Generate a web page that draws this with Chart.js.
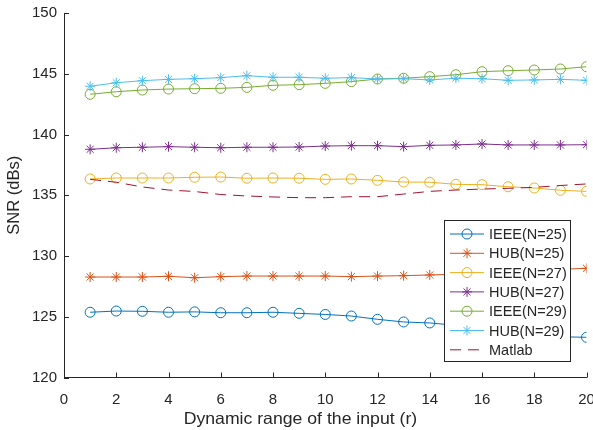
<!DOCTYPE html>
<html>
<head>
<meta charset="utf-8">
<script src="https://cdn.jsdelivr.net/npm/chart.js"></script>
<style>
  body { margin: 0; background: #fff; }
  #chart { display: block; }
</style>
</head>
<body>
<canvas id="chart" width="593" height="430"></canvas>
<script>
const xValues = [1, 2, 3, 4, 5, 6, 7, 8, 9, 10, 11, 12, 13, 14, 15, 16, 17, 18, 19, 20];

const ieee25 = [125.37, 125.47, 125.45, 125.37, 125.4, 125.33, 125.33, 125.37, 125.28, 125.19,
  125.06, 124.79, 124.57, 124.49, 124.3, 124.05, 123.8, 123.55, 123.35, 123.31];
const hub25 = [128.27, 128.27, 128.27, 128.33, 128.21, 128.3, 128.35, 128.35, 128.35, 128.35,
  128.3, 128.35, 128.38, 128.44, 128.5, 128.6, 128.7, 128.8, 128.9, 128.99];
const ieee27 = [136.34, 136.42, 136.42, 136.42, 136.48, 136.5, 136.4, 136.42, 136.4, 136.31,
  136.34, 136.23, 136.09, 136.07, 135.9, 135.87, 135.7, 135.6, 135.41, 135.32];
const hub27 = [138.78, 138.91, 138.95, 139.0, 138.95, 138.91, 138.95, 138.95, 138.97, 139.05,
  139.08, 139.08, 139.0, 139.11, 139.14, 139.22, 139.14, 139.14, 139.14, 139.16];
const ieee29 = [143.31, 143.52, 143.66, 143.74, 143.77, 143.8, 143.88, 144.05, 144.1, 144.21,
  144.35, 144.57, 144.63, 144.76, 144.92, 145.17, 145.25, 145.31, 145.39, 145.58];
const hub29 = [143.97, 144.26, 144.43, 144.54, 144.59, 144.68, 144.84, 144.71, 144.71, 144.63,
  144.68, 144.57, 144.59, 144.49, 144.63, 144.59, 144.46, 144.49, 144.54, 144.46];
const matlab = [136.31, 136.07, 135.68, 135.43, 135.31, 135.06, 134.94, 134.86, 134.8, 134.8,
  134.88, 134.88, 135.1, 135.32, 135.43, 135.51, 135.57, 135.65, 135.8, 135.93];

const xTicks = [0, 2, 4, 6, 8, 10, 12, 14, 16, 18, 20];
const yTicks = [120, 125, 130, 135, 140, 145, 150];

const seriesList = [
  { label: "IEEE(N=25)", values: ieee25, color: "#0072BD", marker: "circle" },
  { label: "HUB(N=25)", values: hub25, color: "#D95319", marker: "star" },
  { label: "IEEE(N=27)", values: ieee27, color: "#EDB120", marker: "circle" },
  { label: "HUB(N=27)", values: hub27, color: "#7E2F8E", marker: "star" },
  { label: "IEEE(N=29)", values: ieee29, color: "#77AC30", marker: "circle" },
  { label: "HUB(N=29)", values: hub29, color: "#4DBEEE", marker: "star" },
  { label: "Matlab", values: matlab, color: "#A2142F", marker: null, dash: [11, 7] },
];

const axisColor = "#262626";
const fontFamily = "'Liberation Sans', Arial, Helvetica, sans-serif";
const xTitle = "Dynamic range of the input (r)";

const datasets = seriesList.map((s, i) => ({
  label: s.label,
  data: xValues.map((x, j) => ({ x: x, y: s.values[j] })),
  borderColor: s.color,
  backgroundColor: "rgba(0,0,0,0)",
  borderWidth: 1,
  borderDash: s.dash || [],
  pointStyle: s.marker || false,
  pointRadius: s.marker ? 5 : 0,
  pointBorderWidth: 1,
  pointBorderColor: s.color,
  pointBackgroundColor: "rgba(0,0,0,0)",
  tension: 0,
  order: seriesList.length - i,
}));

function drawMarker(ctx, type, x, y, r) {
  ctx.beginPath();
  if (type === "circle") {
    ctx.arc(x, y, r, 0, Math.PI * 2);
  } else if (type === "star") {
    const d = r * Math.SQRT1_2;
    ctx.moveTo(x - r, y); ctx.lineTo(x + r, y);
    ctx.moveTo(x, y - r); ctx.lineTo(x, y + r);
    ctx.moveTo(x - d, y - d); ctx.lineTo(x + d, y + d);
    ctx.moveTo(x - d, y + d); ctx.lineTo(x + d, y - d);
  }
  ctx.stroke();
}

// inward tick marks (matlab style) + x axis title, which sits left of centre in the original
const tickMarks = {
  id: "tickMarks",
  afterDraw(chart) {
    const ctx = chart.ctx;
    const area = chart.chartArea;
    const xs = chart.scales.x;
    const ys = chart.scales.y;
    ctx.save();
    ctx.strokeStyle = axisColor;
    ctx.lineWidth = 1;
    ctx.beginPath();
    xTicks.forEach((v) => {
      const px = Math.round(xs.getPixelForValue(v)) + 0.5;
      ctx.moveTo(px, area.bottom);
      ctx.lineTo(px, area.bottom - 5);
    });
    yTicks.forEach((v) => {
      const py = Math.round(ys.getPixelForValue(v)) + 0.5;
      ctx.moveTo(area.left, py);
      ctx.lineTo(area.left + 5, py);
    });
    ctx.stroke();
    // the source picture is a bit stretched sideways, so widen the title text a little
    ctx.fillStyle = axisColor;
    ctx.font = "16.5px " + fontFamily;
    ctx.textAlign = "center";
    ctx.textBaseline = "alphabetic";
    ctx.translate(xs.getPixelForValue(9.05), 423.5);
    ctx.scale(1.07, 1);
    ctx.fillText(xTitle, 0, 0);
    ctx.restore();
  },
};

// legend box inside the plot
const boxLegend = {
  id: "boxLegend",
  afterDraw(chart) {
    const ctx = chart.ctx;
    const left = 444.5, top = 220.5, w = 126, h = 141;
    ctx.save();
    ctx.fillStyle = "#fff";
    ctx.fillRect(left, top, w, h);
    ctx.strokeStyle = axisColor;
    ctx.lineWidth = 1;
    ctx.strokeRect(left, top, w, h);
    ctx.font = "14.5px " + fontFamily;
    ctx.textBaseline = "middle";
    ctx.textAlign = "left";
    seriesList.forEach((s, i) => {
      const y = 234 + i * 19.3;
      ctx.strokeStyle = s.color;
      ctx.lineWidth = 1;
      ctx.setLineDash(s.dash || []);
      ctx.beginPath();
      ctx.moveTo(450, y);
      ctx.lineTo(484, y);
      ctx.stroke();
      ctx.setLineDash([]);
      if (s.marker) drawMarker(ctx, s.marker, 467, y, 5);
      ctx.fillStyle = axisColor;
      ctx.fillText(s.label, 489, y + 1);
    });
    ctx.restore();
  },
};

new Chart(document.getElementById("chart"), {
  type: "line",
  data: { datasets: datasets },
  options: {
    responsive: false,
    animation: false,
    devicePixelRatio: 1,
    layout: { padding: { top: 13, right: 6.5, left: 0, bottom: 0 } },
    plugins: {
      legend: { display: false },
      tooltip: { enabled: false },
    },
    scales: {
      x: {
        type: "linear",
        min: 0,
        max: 20,
        afterBuildTicks: (scale) => {
          scale.ticks = xTicks.map((v) => ({ value: v }));
        },
        afterFit: (scale) => {
          scale.height = 52.5;
          scale.paddingLeft = 0;
          scale.paddingRight = 0;
        },
        grid: { display: false, drawTicks: false, tickLength: 0 },
        border: { display: true, color: axisColor, width: 1 },
        ticks: {
          color: axisColor,
          padding: 13,
          maxRotation: 0,
          autoSkip: false,
          font: { family: fontFamily, size: 15 },
        },
        title: { display: false },
      },
      y: {
        type: "linear",
        min: 120,
        max: 150,
        afterBuildTicks: (scale) => {
          scale.ticks = yTicks.map((v) => ({ value: v }));
        },
        afterFit: (scale) => {
          scale.width = 64;
          scale.paddingTop = 0;
          scale.paddingBottom = 0;
        },
        grid: { display: false, drawTicks: false, tickLength: 0 },
        border: { display: true, color: axisColor, width: 1 },
        ticks: {
          color: axisColor,
          padding: 7,
          autoSkip: false,
          font: { family: fontFamily, size: 15 },
        },
        title: {
          display: true,
          text: "SNR (dBs)",
          color: axisColor,
          font: { family: fontFamily, size: 16.5 },
          padding: { top: 5, bottom: 0 },
        },
      },
    },
  },
  plugins: [tickMarks, boxLegend],
});
</script>
</body>
</html>
